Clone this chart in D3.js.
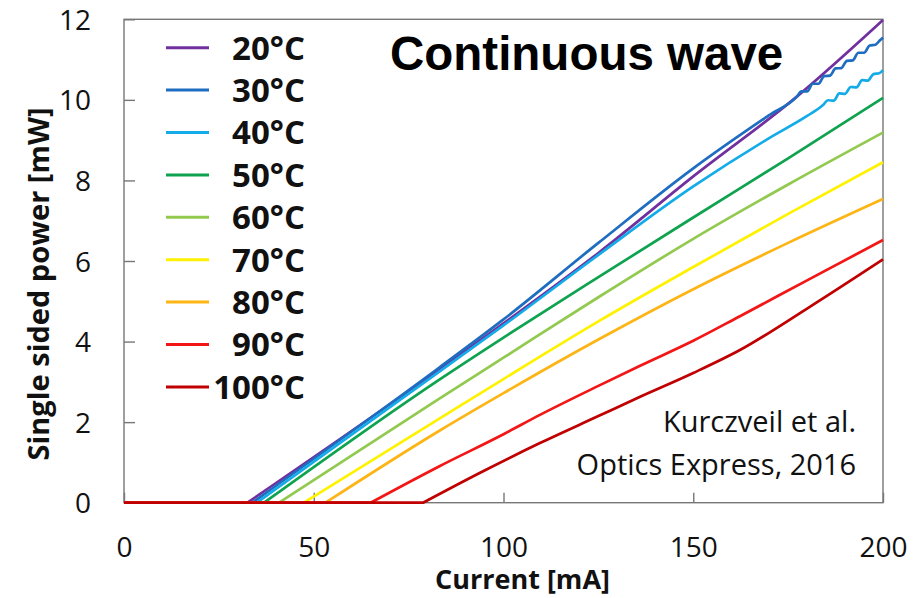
<!DOCTYPE html>
<html>
<head>
<meta charset="utf-8">
<script src="https://cdn.jsdelivr.net/npm/d3@7"></script>
<style>
  html, body { margin: 0; padding: 0; background: #fff; }
  svg { display: block; }
</style>
</head>
<body>
<svg id="chart" width="919" height="598"></svg>
<script>
// ---------------- data ----------------
const temperatures = ["20°C", "30°C", "40°C", "50°C", "60°C", "70°C", "80°C", "90°C", "100°C"];
const seriesColors = ["#7030A0", "#1F6DC0", "#13ABE8", "#0FA350", "#92C94F", "#FFF200", "#FDB515", "#F21616", "#C00000"];

// [current mA, power mW]
const p20 = [[0,0],[32.5,0],[83,3.3],[100,4.45],[125,6.2],[150,8.1],[177.3,10.08],[200,11.98]];
const p30 = [[0,0],[33.8,0],[83,3.35],[100,4.55],[125,6.45],[150,8.3],[170,9.62],[177.3,10.08],
             [178.5,10.21],[180,10.21],[181.5,10.40],[183,10.40],[184.5,10.59],[186,10.60],
             [187.5,10.78],[189,10.79],[190.5,10.97],[192,10.98],[193.5,11.17],[195,11.17],
             [196.5,11.35],[198,11.37],[199.2,11.48],[200,11.55]];
const p40 = [[0,0],[35,0],[83,3.25],[100,4.4],[125,6.15],[150,7.85],[170,9.05],[180,9.6],[184.2,9.87],
             [185.5,9.99],[187,9.98],[188.5,10.16],[190,10.15],[191.5,10.32],[193,10.31],
             [194.5,10.49],[196,10.48],[197.5,10.64],[199,10.66],[200,10.74]];
const p50 = [[0,0],[36.9,0],[83,3.05],[100,4.1],[125,5.6],[150,7.08],[175,8.55],[200,10.05]];
const p60 = [[0,0],[40.8,0],[83,2.58],[100,3.6],[125,5.1],[150,6.55],[175,7.9],[200,9.19]];
const p70 = [[0,0],[47.4,0],[83,2.08],[100,3.07],[125,4.5],[150,5.85],[175,7.17],[200,8.45]];
const p80 = [[0,0],[53.1,0],[83,1.78],[100,2.72],[125,4.05],[150,5.3],[175,6.45],[200,7.54]];
const p90 = [[0,0],[65,0],[83,0.9],[100,1.7],[109.6,2.18],[125,2.9],[136,3.4],[150,4.02],[162.3,4.63],[180,5.52],[200,6.52]];
const p100 = [[0,0],[78.8,0],[95,0.8],[109.6,1.48],[125,2.15],[136,2.63],[150,3.22],[162.3,3.79],[180,4.82],[200,6.04]];
const seriesData = [p20, p30, p40, p50, p60, p70, p80, p90, p100];

const xTicks = [0, 50, 100, 150, 200];
const yTicks = [0, 2, 4, 6, 8, 10, 12];
const xTitle = "Current [mA]";
const yTitle = "Single sided power [mW]";
const chartTitle = "Continuous wave";
const noteLines = ["Kurczveil et al.", "Optics Express, 2016"];

// ---------------- layout ----------------
const svg = d3.select("#chart");
const plot = { left: 124, right: 883, top: 19.3, bottom: 502.7 };
const bodyFont = "'Open Sans', 'DejaVu Sans', sans-serif";
const axisColor = "#777";

const x = d3.scaleLinear().domain([0, 200]).range([plot.left, plot.right]);
const y = d3.scaleLinear().domain([0, 12]).range([plot.bottom, plot.top]);

// frame
svg.append("rect")
  .attr("x", plot.left).attr("y", plot.top)
  .attr("width", plot.right - plot.left).attr("height", plot.bottom - plot.top)
  .attr("fill", "none").attr("stroke", axisColor).attr("stroke-width", 1.4);

// x axis
const gx = svg.append("g")
  .attr("transform", `translate(0,${plot.bottom})`)
  .call(d3.axisBottom(x).tickValues(xTicks).tickSize(-10).tickPadding(34).tickFormat(d3.format("d")));
gx.select(".domain").remove();
gx.selectAll(".tick line").attr("stroke", axisColor).attr("stroke-width", 1.4);
gx.selectAll(".tick text").attr("font-family", bodyFont).attr("font-size", 28).attr("fill", "#111");

// y axis
const gy = svg.append("g")
  .attr("transform", `translate(${plot.left},0)`)
  .call(d3.axisLeft(y).tickValues(yTicks).tickSize(-11).tickPadding(33).tickFormat(d3.format("d")));
gy.select(".domain").remove();
gy.selectAll(".tick line").attr("stroke", axisColor).attr("stroke-width", 1.4);
gy.selectAll(".tick text").attr("font-family", bodyFont).attr("font-size", 28).attr("fill", "#111").attr("dy", "0.36em");

// lines: flat part below threshold (straight) + lasing part (smooth)
const flatLine = d3.line().x(d => x(d[0])).y(d => y(d[1]));
const riseLine = d3.line().x(d => x(d[0])).y(d => y(d[1])).curve(d3.curveMonotoneX);
const lg0 = svg.append("g");
seriesData.forEach((pts, i) => {
  const thrIdx = pts.findIndex((p, k) => k > 0 && p[1] === 0);
  const flat = pts.slice(0, thrIdx + 1);
  const rise = pts.slice(thrIdx);
  lg0.append("path")
    .attr("d", flatLine(flat) + riseLine(rise).replace(/^M/, "L"))
    .attr("fill", "none")
    .attr("stroke", seriesColors[i])
    .attr("stroke-width", 2.7)
    .attr("stroke-linejoin", "round")
    .attr("stroke-linecap", "butt");
});

// legend
const legendY0 = 47.7, legendStep = 42.4;
const lg = svg.append("g");
temperatures.forEach((t, i) => {
  const ly = legendY0 + i * legendStep;
  lg.append("line")
    .attr("x1", 166).attr("x2", 209).attr("y1", ly).attr("y2", ly)
    .attr("stroke", seriesColors[i]).attr("stroke-width", 3);
  lg.append("text")
    .attr("x", 305).attr("y", ly + 11.8)
    .attr("text-anchor", "end")
    .attr("font-family", bodyFont).attr("font-weight", "bold").attr("font-size", 33)
    .attr("fill", "#111")
    .text(t);
});

// title
svg.append("text")
  .attr("x", 390).attr("y", 70)
  .attr("font-family", "'Liberation Sans', Arial, sans-serif").attr("font-weight", "bold").attr("font-size", 47.5)
  .attr("fill", "#000")
  .text(chartTitle);

// note
noteLines.forEach((s, i) => {
  svg.append("text")
    .attr("x", 856).attr("y", 431.7 + i * 43.3)
    .attr("text-anchor", "end")
    .attr("font-family", bodyFont).attr("font-size", 29)
    .attr("fill", "#111")
    .text(s);
});

// axis titles
svg.append("text")
  .attr("x", 522.5).attr("y", 589)
  .attr("text-anchor", "middle")
  .attr("font-family", bodyFont).attr("font-weight", "bold").attr("font-size", 27)
  .attr("fill", "#111")
  .text(xTitle);

svg.append("text")
  .attr("transform", "translate(49,284) rotate(-90)")
  .attr("text-anchor", "middle")
  .attr("font-family", bodyFont).attr("font-weight", "bold").attr("font-size", 29)
  .attr("fill", "#111")
  .text(yTitle);
</script>
</body>
</html>
